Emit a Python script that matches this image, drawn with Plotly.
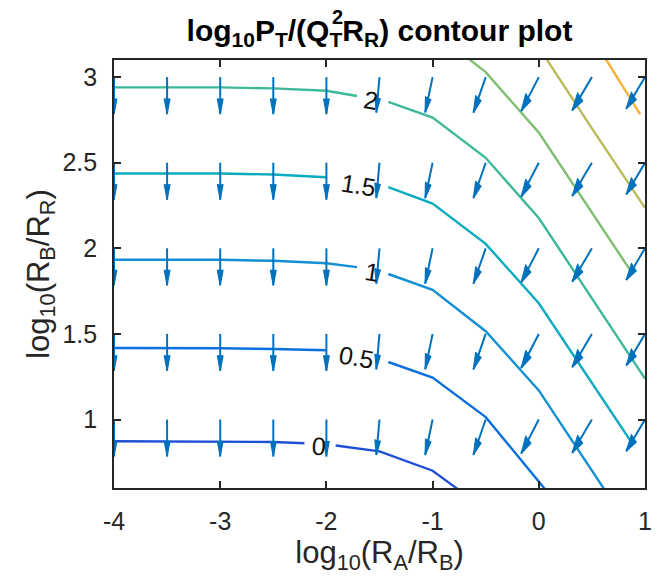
import plotly.graph_objects as go

# Contour levels of log10 P_T/(Q_T^2 R_R)
LEVELS = [0, 0.5, 1, 1.5, 2, 2.5, 3, 3.5]

# Contour paths in (log10(RA/RB), log10(RB/RR)); None = break left for an inline label
LEVEL_0_X = [-4, -3.5, -3, -2.5, -2.207, None, -1.913, -1.5, -1, -0.766]
LEVEL_0_Y = [0.873, 0.873, 0.873, 0.869, 0.861, None, 0.848, 0.814, 0.701, 0.595]
LEVEL_05_X = [-4, -3.5, -3, -2.5, -2, None, -1.417, -1, -0.5, 0.056]
LEVEL_05_Y = [1.418, 1.418, 1.416, 1.412, 1.405, None, 1.336, 1.245, 1.014, 0.595]
LEVEL_1_X = [-4, -3.5, -3, -2.5, -2, -1.712, None, -1.417, -1, -0.5, 0, 0.614]
LEVEL_1_Y = [1.933, 1.933, 1.933, 1.927, 1.913, 1.890, None, 1.850, 1.757, 1.516, 1.170, 0.595]
LEVEL_15_X = [-4, -3.5, -3, -2.5, -2, None, -1.417, -1, -0.5, 0, 0.862]
LEVEL_15_Y = [2.437, 2.437, 2.437, 2.431, 2.415, None, 2.357, 2.261, 2.026, 1.679, 0.877]
LEVEL_2_X = [-4, -3.5, -3, -2.5, -2, -1.712, None, -1.417, -1, -0.5, 0, 1]
LEVEL_2_Y = [2.940, 2.940, 2.940, 2.934, 2.920, 2.890, None, 2.855, 2.764, 2.529, 2.177, 1.239]
LEVEL_25_X = [-0.658, -0.5, 0, 0.865]
LEVEL_25_Y = [3.106, 3.029, 2.676, 1.868]
LEVEL_3_X = [0.072, 0.5, 1]
LEVEL_3_Y = [3.106, 2.701, 2.236]
LEVEL_35_X = [0.630, 0.955]
LEVEL_35_Y = [3.106, 2.783]

# Inline contour labels
LABEL_LEVELS = [0, 0.5, 1, 1.5, 2]
LABEL_X = [-2.068, -1.721, -1.567, -1.696, -1.581]
LABEL_Y = [0.848, 1.364, 1.862, 2.367, 2.865]
LABEL_ANGLE = [4, 10, 9, 9, 10]

# Gradient field (quiver): one vector per column, repeated on every row
QUIVER_X = [-4, -3.5, -3, -2.5, -2, -1.5, -1, -0.5, 0, 0.5, 1]
QUIVER_Y = [1.0, 1.5, 2.0, 2.5, 3.0]
QUIVER_U = [0, 0, 0, 0, 0, -0.030, -0.070, -0.116, -0.166, -0.186, -0.177]
QUIVER_V = [-0.216, -0.216, -0.216, -0.216, -0.216, -0.207, -0.207, -0.207, -0.199, -0.195, -0.185]

X_TICKS = [-4, -3, -2, -1, 0, 1]
Y_TICKS = [1, 1.5, 2, 2.5, 3]

# parula-like colours for each level
LEVEL_COLORS = ["#1f4fd6", "#0a70de", "#1390d3", "#09abbe",
                "#3db99a", "#80bf72", "#b9bb5a", "#f7b03a"]

PATHS = [
    (LEVEL_0_X, LEVEL_0_Y), (LEVEL_05_X, LEVEL_05_Y), (LEVEL_1_X, LEVEL_1_Y),
    (LEVEL_15_X, LEVEL_15_Y), (LEVEL_2_X, LEVEL_2_Y), (LEVEL_25_X, LEVEL_25_Y),
    (LEVEL_3_X, LEVEL_3_Y), (LEVEL_35_X, LEVEL_35_Y),
]

FONT = "Liberation Sans, Arial, sans-serif"
AXIS_COLOR = "#262626"
ARROW_COLOR = "#0072bd"

fig = go.Figure()

for (xs, ys), col in zip(PATHS, LEVEL_COLORS):
    fig.add_trace(go.Scatter(x=xs, y=ys, mode="lines", connectgaps=False,
                             line=dict(color=col, width=2.4),
                             hoverinfo="skip", showlegend=False))

# quiver arrows: shafts plus narrow arrowheads (MATLAB-style head geometry)
HEAD_A, HEAD_B = 0.42, 0.30
shaft_x, shaft_y, head_x, head_y = [], [], [], []
for x0, u, v in zip(QUIVER_X, QUIVER_U, QUIVER_V):
    for y0 in QUIVER_Y:
        tx, ty = x0 + u, y0 + v
        shaft_x += [x0, tx, None]
        shaft_y += [y0, ty, None]
        head_x += [tx - HEAD_A * (u + HEAD_B * v), tx, tx - HEAD_A * (u - HEAD_B * v), None]
        head_y += [ty - HEAD_A * (v - HEAD_B * u), ty, ty - HEAD_A * (v + HEAD_B * u), None]

fig.add_trace(go.Scatter(x=shaft_x, y=shaft_y, mode="lines",
                         line=dict(color=ARROW_COLOR, width=2),
                         hoverinfo="skip", showlegend=False))
fig.add_trace(go.Scatter(x=head_x, y=head_y, mode="lines", fill="toself",
                         fillcolor=ARROW_COLOR,
                         line=dict(color=ARROW_COLOR, width=1.2),
                         hoverinfo="skip", showlegend=False))

for lvl, lx, ly, ang in zip(LABEL_LEVELS, LABEL_X, LABEL_Y, LABEL_ANGLE):
    fig.add_annotation(x=lx, y=ly, xref="x", yref="y", text=f"{lvl:g}",
                       showarrow=False, textangle=ang,
                       font=dict(family=FONT, size=25, color="#111111"))

axis_common = dict(
    showline=True, linecolor=AXIS_COLOR, linewidth=1.6, mirror="ticks",
    ticks="inside", ticklen=7, tickwidth=1.5, tickcolor=AXIS_COLOR,
    showgrid=False, zeroline=False,
    tickfont=dict(family=FONT, size=25, color=AXIS_COLOR),
)

fig.update_xaxes(range=[-4, 1], tickvals=X_TICKS,
                 ticktext=[f"{t:g}".replace("\u2212", "-") for t in X_TICKS],
                 ticklabelstandoff=10,
                 title=dict(text="log<sub>10</sub>(R<sub>A</sub>/R<sub>B</sub>)",
                            font=dict(family=FONT, size=31, color=AXIS_COLOR),
                            standoff=8),
                 **axis_common)
fig.update_yaxes(range=[0.6, 3.1], tickvals=Y_TICKS,
                 ticktext=[f"{t:g}" for t in Y_TICKS],
                 ticklabelstandoff=10,
                 title=dict(text="log<sub>10</sub>(R<sub>B</sub>/R<sub>R</sub>)",
                            font=dict(family=FONT, size=31, color=AXIS_COLOR),
                            standoff=4),
                 **axis_common)

# title: the superscript 2 of Q is stacked over its subscript T
fig.update_layout(
    width=657, height=581,
    margin=dict(l=114, r=5, t=60, b=93),
    paper_bgcolor="white", plot_bgcolor="white",
    title=dict(text="log<sub>10</sub>P<sub>T</sub>/(Q<sub>T</sub>R<sub>R</sub>) contour plot",
               x=0.5, xref="paper", xanchor="center",
               y=1 - 30 / 581, yref="container", yanchor="middle",
               font=dict(family=FONT, size=30, color="#000000", weight="bold")),
)
fig.add_annotation(text="2", xref="paper", yref="paper",
                   x=(333 - 114) / 538, y=1 + (60 - 17) / 428,
                   xanchor="left", yanchor="middle", showarrow=False,
                   font=dict(family=FONT, size=20, color="#000000", weight="bold"))

fig.write_html("out.html")
